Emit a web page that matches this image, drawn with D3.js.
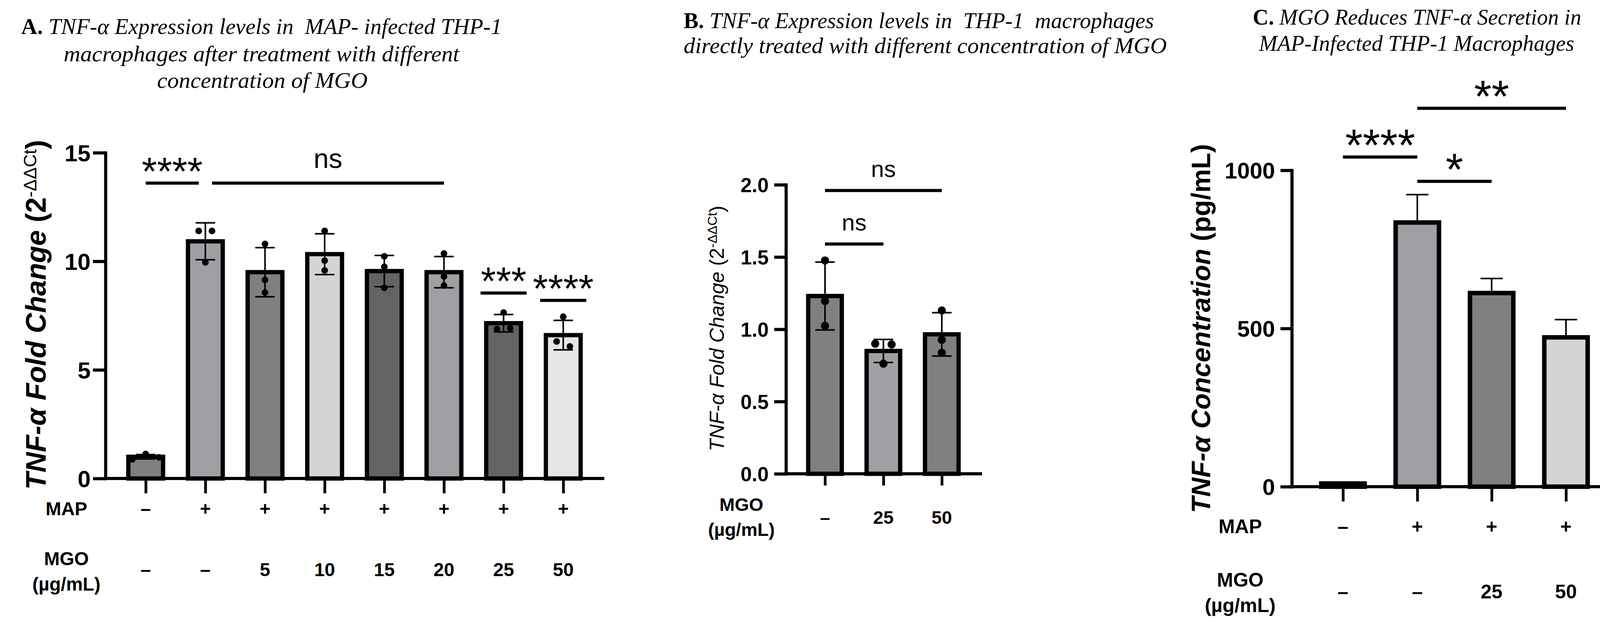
<!DOCTYPE html>
<html>
<head>
<meta charset="utf-8">
<script src="https://cdn.jsdelivr.net/npm/d3@7"></script>
<style>
  body { margin: 0; background: #fff; }
  text { white-space: pre; }
</style>
</head>
<body>
<svg id="fig" width="4166" height="1595"></svg>
<script>
// ---- panel A : MAP-infected THP-1, qPCR fold change
const mapA = ['–', '+', '+', '+', '+', '+', '+', '+'];
const mgoA = ['–', '–', '5', '10', '15', '20', '25', '50'];
const meanA = [1.0, 10.92, 9.5, 10.33, 9.55, 9.5, 7.15, 6.6];
const sdA = [0.1, 0.85, 1.13, 0.94, 0.72, 0.72, 0.4, 0.68];
const pointsA = [
  [0.88, 1.13, 0.97], [11.4, 11.4, 9.95], [10.8, 9.14, 8.56], [11.4, 10.03, 9.58],
  [10.23, 9.75, 8.78], [10.36, 9.3, 8.88], [7.64, 6.88, 6.92], [7.45, 6.31, 6.08]
];
const fillA = ['#808080', '#a0a0a4', '#808080', '#d4d4d4', '#636363', '#a0a0a4', '#636363', '#e6e6e6'];
const ticksA = [0, 5, 10, 15];
const sigA = [
  {a: 0, b: 1, y: 13.6, label: '****'},
  {a: 1, b: 5, y: 13.6, label: 'ns'},
  {a: 6, b: 6, y: 8.54, label: '***'},
  {a: 7, b: 7, y: 8.2, label: '****'}
];

// ---- panel B : THP-1 treated with MGO only
const mgoB = ['–', '25', '50'];
const meanB = [1.23, 0.85, 0.965];
const sdB = [0.235, 0.08, 0.15];
const pointsB = [[1.476, 1.195, 1.024], [0.90, 0.895, 0.762], [1.13, 0.927, 0.838]];
const fillB = ['#808080', '#a0a0a4', '#808080'];
const ticksB = [0, 0.5, 1.0, 1.5, 2.0];
const sigB = [
  {a: 0, b: 2, y: 1.96, label: 'ns'},
  {a: 0, b: 1, y: 1.59, label: 'ns'}
];

// ---- panel C : ELISA, TNF-a secretion
const mapC = ['–', '+', '+', '+'];
const mgoC = ['–', '–', '25', '50'];
const meanC = [10, 835, 612, 472];
const errC = [4, 88, 46, 56];
const fillC = ['#808080', '#a0a0a4', '#808080', '#d4d4d4'];
const ticksC = [0, 500, 1000];
const sigC = [
  {a: 0, b: 1, y: 1042, label: '****'},
  {a: 1, b: 2, y: 965, label: '*'},
  {a: 1, b: 3, y: 1196, label: '**'}
];

const sans = "'Liberation Sans', Arial, Helvetica, sans-serif";
const serif = "'Liberation Serif', 'Times New Roman', serif";
const svg = d3.select('#fig');

svg.append('rect').attr('width', 4166).attr('height', 1595).attr('fill', '#fff');

// titles
const titles = [
  {lead: 'A.', text: ' TNF-α Expression levels in  MAP- infected THP-1', x: 54, y: 87, w: 1231},
  {text: 'macrophages after treatment with different', x: 163, y: 157, w: 1013},
  {text: 'concentration of MGO', x: 402, y: 225, w: 539},
  {lead: 'B.', text: ' TNF-α Expression levels in  THP-1  macrophages', x: 1750, y: 72, w: 1204},
  {text: 'directly treated with different concentration of MGO', x: 1750, y: 136, w: 1237},
  {lead: 'C.', text: ' MGO Reduces TNF-α Secretion in', x: 3207, y: 63, w: 841},
  {text: 'MAP-Infected THP-1 Macrophages', x: 3223, y: 130, w: 807}
];
svg.append('g').selectAll('text').data(titles).join('text')
  .attr('x', d => d.x).attr('y', d => d.y)
  .attr('font-family', serif).attr('font-size', 57).attr('fill', '#000')
  .attr('textLength', d => d.w).attr('lengthAdjust', 'spacingAndGlyphs')
  .each((d, i, t) => {
    let el = d3.select(t[i]);
    if (d.lead) el.append('tspan').attr('font-weight', 'bold').text(d.lead);
    el.append('tspan').attr('font-style', 'italic').text(d.text);
  });

const drawPanel = (o) => {
  let
    g = svg.append('g'),
    n = o.means.length,
    x = d3.scalePoint().domain(d3.range(n)).range([o.x0 + o.first, o.x0 + o.first + (n - 1) * o.step]),
    y = d3.scaleLinear().domain(o.domain).range([o.y0, o.yTop]),
    half = o.barW / 2
    ;

  // bars
  g.selectAll('rect.bar').data(o.means).join('rect')
    .attr('class', 'bar')
    .attr('x', (d, i) => x(i) - half)
    .attr('y', d => y(d))
    .attr('width', o.barW)
    .attr('height', d => y(0) - y(d))
    .attr('fill', (d, i) => o.fills[i])
    .attr('stroke', '#000')
    .attr('stroke-width', o.barStroke);

  // error bars
  let errs = o.means.map((m, i) => ({i, lo: o.upOnly ? m : m - o.err[i], hi: m + o.err[i]}));
  g.selectAll('line.eb').data(errs).join('line')
    .attr('class', 'eb')
    .attr('x1', d => x(d.i)).attr('x2', d => x(d.i))
    .attr('y1', d => y(d.lo)).attr('y2', d => y(d.hi))
    .attr('stroke', '#000').attr('stroke-width', o.ebW);
  let caps = errs.flatMap(d => o.upOnly ? [{i: d.i, v: d.hi}] : [{i: d.i, v: d.hi}, {i: d.i, v: d.lo}]);
  g.selectAll('line.cap').data(caps).join('line')
    .attr('class', 'cap')
    .attr('x1', d => x(d.i) - o.capW / 2).attr('x2', d => x(d.i) + o.capW / 2)
    .attr('y1', d => y(d.v)).attr('y2', d => y(d.v))
    .attr('stroke', '#000').attr('stroke-width', o.ebW);

  // replicate dots, spread sideways when they would overlap
  if (o.points) {
    let dots = [];
    o.points.forEach((pts, i) => {
      let sorted = pts.map((v, k) => ({v, k})).sort((a, b) => a.v - b.v),
        groups = [], cur = [];
      sorted.forEach(p => {
        if (cur.length && y(cur[cur.length - 1].v) - y(p.v) >= 2 * o.r) { groups.push(cur); cur = []; }
        cur.push(p);
      });
      groups.push(cur);
      groups.forEach(gr => {
        gr.sort((a, b) => a.k - b.k).forEach((p, j) => {
          dots.push({i, v: p.v, dx: (j - (gr.length - 1) / 2) * 4 * o.r});
        });
      });
    });
    g.selectAll('circle').data(dots).join('circle')
      .attr('cx', d => x(d.i) + d.dx)
      .attr('cy', d => y(d.v))
      .attr('r', o.r)
      .attr('fill', '#000');
  }

  // y axis
  g.append('g')
    .attr('transform', `translate(${o.x0},0)`)
    .call(d3.axisLeft(y).tickValues(o.ticks).tickSize(o.tickLen).tickSizeOuter(0)
      .tickPadding(o.pad).tickFormat(o.fmt))
    .call(a => a.select('.domain').attr('stroke-width', o.axisW).attr('stroke-linecap', 'square'))
    .call(a => a.selectAll('.tick line').attr('stroke-width', o.axisW))
    .call(a => a.selectAll('.tick text')
      .attr('font-family', sans).attr('font-weight', 'bold')
      .attr('font-size', o.tickFont).attr('fill', '#000').attr('dy', '0.36em'));

  // x axis
  g.append('line')
    .attr('x1', o.x0).attr('x2', o.xEnd)
    .attr('y1', y(0)).attr('y2', y(0))
    .attr('stroke', '#000').attr('stroke-width', o.axisW);
  g.append('g')
    .attr('transform', `translate(0,${y(0)})`)
    .call(d3.axisBottom(x).tickSize(o.xTick).tickFormat(''))
    .call(a => a.select('.domain').remove())
    .call(a => a.selectAll('.tick line').attr('stroke-width', o.xTickW));

  // condition rows under the axis
  o.rows.forEach(r => {
    g.append('g').selectAll('text').data(r.vals).join('text')
      .attr('x', (d, i) => x(i)).attr('y', r.y)
      .attr('text-anchor', 'middle').attr('dominant-baseline', 'central')
      .attr('font-family', sans).attr('font-weight', 'bold').attr('font-size', o.rowFont)
      .text(d => d);
    g.append('g').selectAll('text').data(r.label).join('text')
      .attr('x', o.labelX).attr('y', (d, i) => r.labelY[i])
      .attr('text-anchor', 'middle').attr('dominant-baseline', 'central')
      .attr('font-family', sans).attr('font-weight', 'bold').attr('font-size', o.rowFont)
      .text(d => d);
  });

  // y axis title
  let yl = g.append('text')
    .attr('transform', `translate(${o.yl.x},${o.yl.y}) rotate(-90)`)
    .attr('text-anchor', 'middle')
    .attr('font-family', sans).attr('font-size', o.yl.size)
    .attr('font-weight', o.yl.weight).attr('fill', '#000');
  yl.append('tspan').attr('font-style', 'italic').text(o.yl.main);
  yl.append('tspan').text(o.yl.tail);
  if (o.yl.sup) {
    yl.append('tspan').attr('font-size', o.yl.supSize).attr('font-weight', 'normal')
      .attr('dy', -o.yl.supRise).text(o.yl.sup);
    yl.append('tspan').attr('dy', o.yl.supRise).text(')');
  }

  // significance bars
  let segs = o.sig.map(s => {
    let x1 = x(s.a), x2 = x(s.b);
    if (s.a === s.b) { x1 -= o.single; x2 += o.single; }
    else {
      if (o.sig.some(t => t !== s && t.y === s.y && t.a !== t.b && t.a === s.b)) x2 -= o.trim;
      if (o.sig.some(t => t !== s && t.y === s.y && t.a !== t.b && t.b === s.a)) x1 += o.trim;
    }
    return {x1, x2, y: y(s.y), label: s.label, stars: /^\*+$/.test(s.label)};
  });
  g.selectAll('line.sig').data(segs).join('line')
    .attr('class', 'sig')
    .attr('x1', d => d.x1).attr('x2', d => d.x2)
    .attr('y1', d => d.y).attr('y2', d => d.y)
    .attr('stroke', '#000').attr('stroke-width', o.sigW);
  g.selectAll('text.sig').data(segs).join('text')
    .attr('class', 'sig')
    .attr('x', d => (d.x1 + d.x2) / 2)
    .attr('y', d => d.y + (d.stars ? o.starDy : o.nsDy))
    .attr('text-anchor', 'middle')
    .attr('font-family', sans)
    .attr('font-size', d => d.stars ? o.starFont : o.nsFont)
    .text(d => d.label);
};

drawPanel({
  means: meanA, err: sdA, points: pointsA, fills: fillA, sig: sigA,
  x0: 270, first: 103, step: 152.7, xEnd: 1547,
  y0: 1225, yTop: 391, domain: [0, 15], ticks: ticksA, fmt: d3.format('d'),
  tickLen: 32, pad: 6, tickFont: 60, axisW: 8, xTick: 38, xTickW: 7,
  barW: 89, barStroke: 11, ebW: 4, capW: 50, r: 8.5,
  rows: [
    {vals: mapA, y: 1302, label: ['MAP'], labelY: [1302]},
    {vals: mgoA, y: 1458, label: ['MGO', '(µg/mL)'], labelY: [1430, 1495]}
  ],
  labelX: 170, rowFont: 48,
  yl: {x: 117, y: 806, size: 72, weight: 'bold', main: 'TNF-α Fold Change ', tail: '(2',
       sup: '-ΔΔCt', supSize: 46, supRise: 24},
  sigW: 8, trim: 17, single: 59, starFont: 100, nsFont: 70, starDy: 4, nsDy: -39
});

drawPanel({
  means: meanB, err: sdB, points: pointsB, fills: fillB, sig: sigB,
  x0: 2012, first: 100, step: 149.5, xEnd: 2514,
  y0: 1213, yTop: 473, domain: [0, 2], ticks: ticksB, fmt: d3.format('.1f'),
  tickLen: 30, pad: 14, tickFont: 52, axisW: 8, xTick: 30, xTickW: 7,
  barW: 86, barStroke: 11, ebW: 4, capW: 50, r: 10.5,
  rows: [
    {vals: mgoB, y: 1324, label: ['MGO', '(µg/mL)'], labelY: [1291, 1355]}
  ],
  labelX: 1898, rowFont: 47,
  yl: {x: 1853, y: 841, size: 52, weight: 'normal', main: 'TNF-α Fold Change ', tail: '(2',
       sup: '-ΔΔCt', supSize: 34, supRise: 18},
  sigW: 8, trim: 17, single: 59, starFont: 100, nsFont: 60, starDy: 4, nsDy: -35
});

drawPanel({
  means: meanC, err: errC, upOnly: true, fills: fillC, sig: sigC,
  x0: 3307, first: 131, step: 190.3, xEnd: 4141,
  y0: 1246, yTop: 436, domain: [0, 1000], ticks: ticksC, fmt: d3.format('d'),
  tickLen: 29, pad: 14, tickFont: 58, axisW: 8, xTick: 38, xTickW: 7,
  barW: 111, barStroke: 11.5, ebW: 4, capW: 57,
  rows: [
    {vals: mapC, y: 1348, label: ['MAP'], labelY: [1348]},
    {vals: mgoC, y: 1515, label: ['MGO', '(µg/mL)'], labelY: [1485, 1550]}
  ],
  labelX: 3175, rowFont: 50,
  yl: {x: 3098, y: 841, size: 68, weight: 'bold', main: 'TNF-α Concentration ', tail: '(pg/mL)'},
  sigW: 8, trim: 17, single: 59, starFont: 115, nsFont: 60, starDy: 9, nsDy: -35
});
</script>
</body>
</html>
